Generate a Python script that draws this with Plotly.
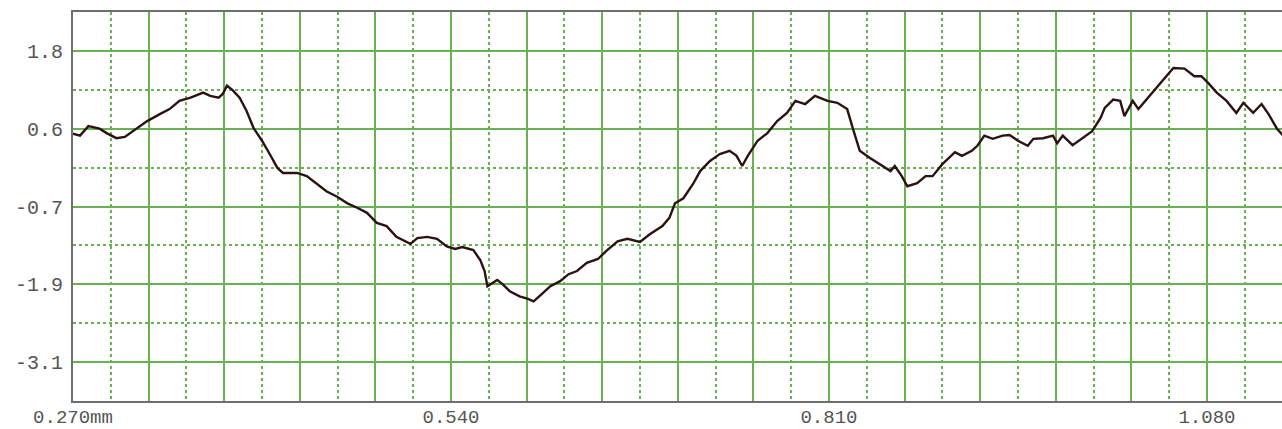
import plotly.graph_objects as go

# Profile trace (mm, value)
x_mm = [0.270,0.275,0.281,0.289,0.294,0.301,0.307,0.313,0.323,0.332,0.339,0.346,0.354,0.363,0.368,0.374,0.377,0.380,0.384,0.389,
        0.394,0.399,0.405,0.411,0.416,0.420,0.430,0.437,0.444,0.451,0.459,0.466,0.473,0.480,0.487,0.494,0.501,0.511,0.516,0.523,
        0.530,0.537,0.543,0.548,0.556,0.561,0.564,0.566,0.573,0.577,0.582,0.589,0.595,0.599,0.605,0.611,0.618,0.624,0.630,0.637,
        0.645,0.651,0.659,0.666,0.675,0.682,0.691,0.696,0.700,0.706,0.713,0.718,0.725,0.732,0.739,0.744,0.748,0.752,0.759,0.766,
        0.773,0.780,0.786,0.793,0.800,0.809,0.816,0.823,0.827,0.832,0.839,0.846,0.854,0.857,0.862,0.866,0.873,0.879,0.884,0.891,
        0.900,0.905,0.912,0.916,0.921,0.927,0.934,0.939,0.945,0.952,0.956,0.963,0.970,0.973,0.977,0.984,0.991,0.998,1.004,1.007,
        1.013,1.018,1.021,1.027,1.031,1.037,1.045,1.050,1.056,1.064,1.071,1.076,1.081,1.087,1.094,1.101,1.106,1.113,1.119,1.124,
        1.130,1.134]
profile = [0.49,0.46,0.61,0.57,0.50,0.42,0.44,0.53,0.69,0.80,0.88,1.01,1.06,1.14,1.09,1.06,1.12,1.25,1.18,1.06,
           0.85,0.58,0.38,0.15,-0.05,-0.13,-0.13,-0.18,-0.30,-0.42,-0.51,-0.61,-0.68,-0.76,-0.92,-0.97,-1.14,-1.25,-1.16,-1.14,
           -1.17,-1.29,-1.33,-1.30,-1.35,-1.51,-1.68,-1.92,-1.82,-1.89,-2.00,-2.08,-2.12,-2.16,-2.04,-1.92,-1.84,-1.73,-1.68,-1.55,
           -1.49,-1.36,-1.21,-1.17,-1.22,-1.10,-0.97,-0.84,-0.61,-0.53,-0.30,-0.10,0.06,0.17,0.22,0.14,-0.02,0.14,0.38,0.50,
           0.69,0.82,1.01,0.96,1.09,1.01,0.98,0.88,0.58,0.22,0.11,0.01,-0.10,-0.02,-0.18,-0.34,-0.29,-0.18,-0.18,0.01,
           0.20,0.14,0.22,0.30,0.46,0.41,0.46,0.47,0.38,0.30,0.41,0.42,0.46,0.34,0.46,0.31,0.42,0.53,0.74,0.90,
           1.03,1.01,0.77,1.01,0.88,1.04,1.25,1.37,1.53,1.52,1.40,1.40,1.29,1.14,1.01,0.82,0.98,0.82,0.96,0.80,
           0.57,0.47]

# Axis ticks
x_tick_vals = [round(0.27 + 0.054 * k, 3) for k in range(17)]
x_tick_labels = ["0.270mm", "", "", "", "", "0.540", "", "", "", "", "0.810", "", "", "", "", "1.080", ""]
y_tick_vals = [1.8, 0.57, -0.66, -1.89, -3.12]
y_tick_labels = ["1.8", "0.6", "-0.7", "-1.9", "-3.1"]

GRID = "rgb(104,178,84)"
FRAME = "#6e6e6e"
TEXT = "#555555"
FONT = dict(family="Liberation Mono, DejaVu Sans Mono, monospace", size=20, color=TEXT)
XFONT = dict(family="Liberation Mono, DejaVu Sans Mono, monospace", size=19, color=TEXT)

fig = go.Figure()
fig.add_trace(go.Scatter(
    x=x_mm, y=profile, mode="lines",
    line=dict(color="rgb(45,18,18)", width=2.4),
    hoverinfo="skip", showlegend=False,
))

fig.update_layout(
    width=1282, height=429,
    margin=dict(l=73, r=0, t=12, b=28, autoexpand=False),
    paper_bgcolor="white", plot_bgcolor="white",
    font=FONT,
    showlegend=False,
    xaxis=dict(
        range=[0.27, 1.1336],
        tickmode="array", tickvals=x_tick_vals, ticktext=x_tick_labels,
        showgrid=True, gridcolor=GRID, gridwidth=1.8,
        minor=dict(tickmode="linear", tick0=0.27, dtick=0.027, showgrid=True,
                   gridcolor=GRID, gridwidth=1.5, griddash="dot"),
        showline=True, linecolor=FRAME, linewidth=2, mirror=True,
        ticks="", zeroline=False, tickfont=XFONT, ticklabelstandoff=-3,
    ),
    yaxis=dict(
        range=[-3.735, 2.415],
        tickmode="array", tickvals=y_tick_vals, ticktext=y_tick_labels,
        showgrid=True, gridcolor=GRID, gridwidth=1.8,
        minor=dict(tickmode="linear", tick0=1.8, dtick=0.615, showgrid=True,
                   gridcolor=GRID, gridwidth=1.6, griddash="dot"),
        showline=True, linecolor=FRAME, linewidth=2, mirror=False,
        ticks="", zeroline=False, tickfont=FONT, ticklabelstandoff=4,
    ),
)

fig.write_html("out.html", config={"displayModeBar": False},
               post_script="document.body.style.margin='0px';document.body.style.overflow='hidden';")
